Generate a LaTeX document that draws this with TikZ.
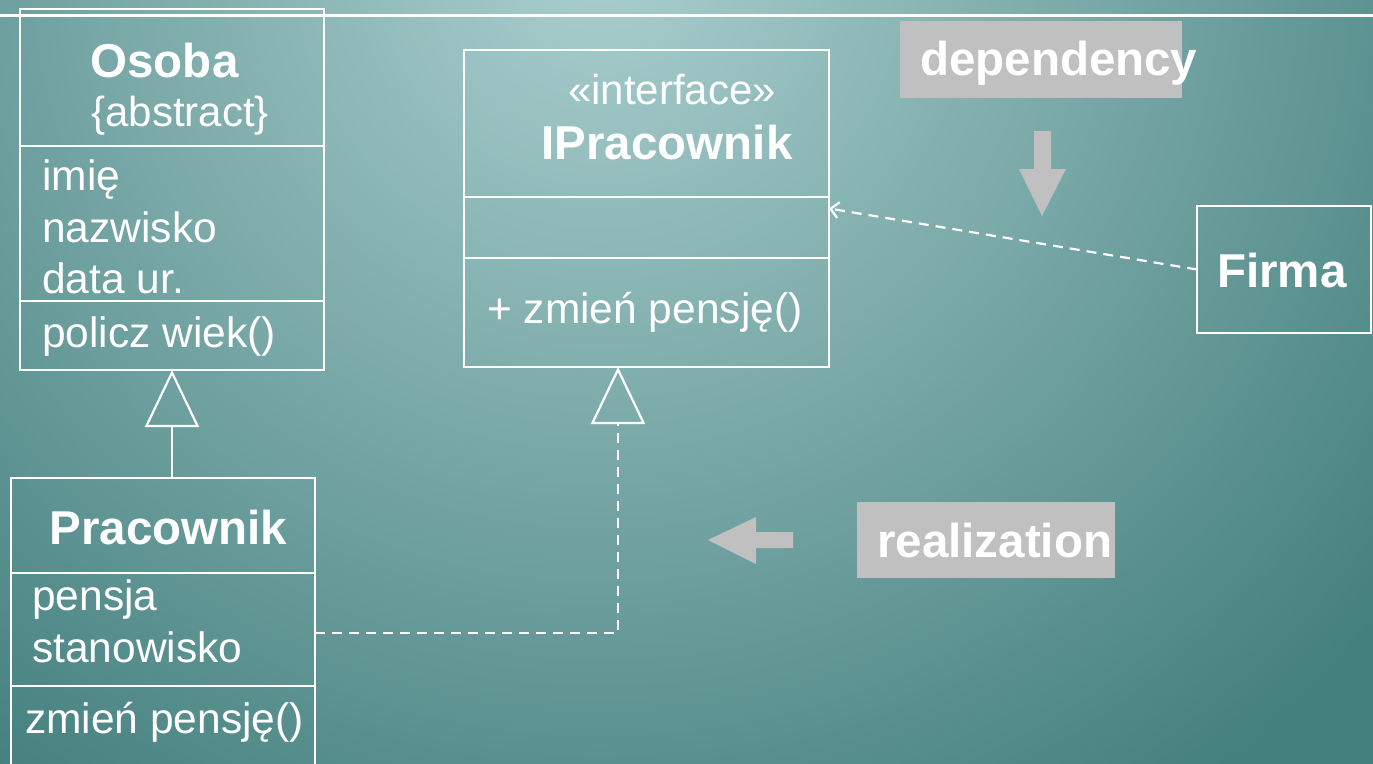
\documentclass[tikz,border=0pt]{standalone}
\usepackage{fontspec}
\setmainfont{Liberation Sans}
\usetikzlibrary{arrows.meta,calc}
\definecolor{bglight}{RGB}{170,206,206}
\definecolor{bgdark}{RGB}{68,128,126}
\definecolor{notegray}{RGB}{192,192,192}
\tikzset{
  clsbox/.style={draw=white, line width=2.2pt, anchor=north west, inner sep=0pt, outer sep=0pt},
  member/.style={text=white, anchor=base west, inner sep=0pt, font=\fontsize{42.5}{50}\selectfont},
  clstitle/.style={text=white, anchor=base, inner sep=0pt, font=\fontsize{47.5}{56}\selectfont\bfseries},
  stereo/.style={text=white, anchor=base, inner sep=0pt, font=\fontsize{42}{50}\selectfont},
  notebox/.style={fill=notegray},
  notetext/.style={text=white, anchor=base west, inner sep=0pt, font=\fontsize{47.5}{56}\selectfont\bfseries},
  divider/.style={draw=white, line width=2.2pt},
  gen/.style={draw=white, line width=2.2pt, -{Triangle[open, length=57pt, width=54pt]}},
  depline/.style={draw=white, line width=2.2pt, dash pattern=on 10pt off 7pt},
  hint/.style={fill=notegray}
}
\begin{document}
\begin{tikzpicture}[x=1pt, y=-1pt]
\useasboundingbox (0,0) rectangle (1373,763);
% background, filled a little past the page edge
\fill[bgdark] (-5,-5) rectangle (1378,768);
\begin{scope}
  \clip (-5,-5) rectangle (1378,768);
  \shade[inner color=bglight, outer color=bgdark] (600,-40) circle (1020pt);
\end{scope}
\draw[white, line width=3pt] (-2,15) -- (1375,15);

% class Osoba
\node[clsbox, minimum width=304pt, minimum height=361pt] (osoba) at (20,9) {};
\draw[divider] (osoba.west |- 0,146) -- (osoba.east |- 0,146);
\draw[divider] (osoba.west |- 0,301) -- (osoba.east |- 0,301);
\node[clstitle] (osobaname) at (164.5,77) {Osoba};
\node[stereo] (osobaabs) at (180,126) {\{abstract\}};
\node[member] (osobaa1) at (42,190) {imię};
\node[member] (osobaa2) at (42,242) {nazwisko};
\node[member] (osobaa3) at (42,293) {data ur.};
\node[member] (osobam1) at (42,347) {policz wiek()};

% class Pracownik
\node[clsbox, minimum width=304pt, minimum height=300pt] (pracownik) at (11,478) {};
\draw[divider] (pracownik.west |- 0,573) -- (pracownik.east |- 0,573);
\draw[divider] (pracownik.west |- 0,686) -- (pracownik.east |- 0,686);
\node[clstitle] (pracname) at (168.5,544) {Pracownik};
\node[member] (praca1) at (32,610) {pensja};
\node[member] (praca2) at (32,662) {stanowisko};
\node[member] (pracm1) at (25,733) {zmień pensję()};

% interface IPracownik
\node[clsbox, minimum width=365pt, minimum height=317pt] (ipracownik) at (464,50) {};
\draw[divider] (ipracownik.west |- 0,197) -- (ipracownik.east |- 0,197);
\draw[divider] (ipracownik.west |- 0,258) -- (ipracownik.east |- 0,258);
\node[stereo] (istereo) at (672,104) {«interface»};
\node[clstitle] (iname) at (667,159) {IPracownik};
\node[member] (im1) at (487,323) {+ zmień pensję()};

% class Firma
\node[clsbox, minimum width=174pt, minimum height=127pt] (firma) at (1197,206) {};
\node[notetext] (firmaname) at (1217,287) {Firma};

% generalization
\draw[gen] (pracownik.north -| osoba.south) -- (osoba.south);

% realization
\coordinate (realtip) at ([xshift=154pt]ipracownik.south west);
\draw[depline] (pracownik.east |- 0,633) -| ([yshift=-57pt]realtip);
\draw[gen] ([yshift=-58pt]realtip) -- (realtip);

% dependency
\draw[depline, -{Straight Barb[length=8pt, width=16pt]}] (firma.west) -- (ipracownik.east);

% explanatory labels
\fill[notebox] (900,21) rectangle (1182,98);
\node[notetext] (deplabel) at (920,75) {dependency};
\fill[hint] (1034,131) -- (1051,131) -- (1051,169) -- (1066,169) -- (1042,216) -- (1019,169) -- (1034,169) -- cycle;

\fill[notebox] (857,502) rectangle (1115,578);
\node[notetext] (reallabel) at (877,557) {realization};
\fill[hint] (793,532) -- (756,532) -- (756,517) -- (708,540) -- (756,564) -- (756,548) -- (793,548) -- cycle;
\end{tikzpicture}
\end{document}
